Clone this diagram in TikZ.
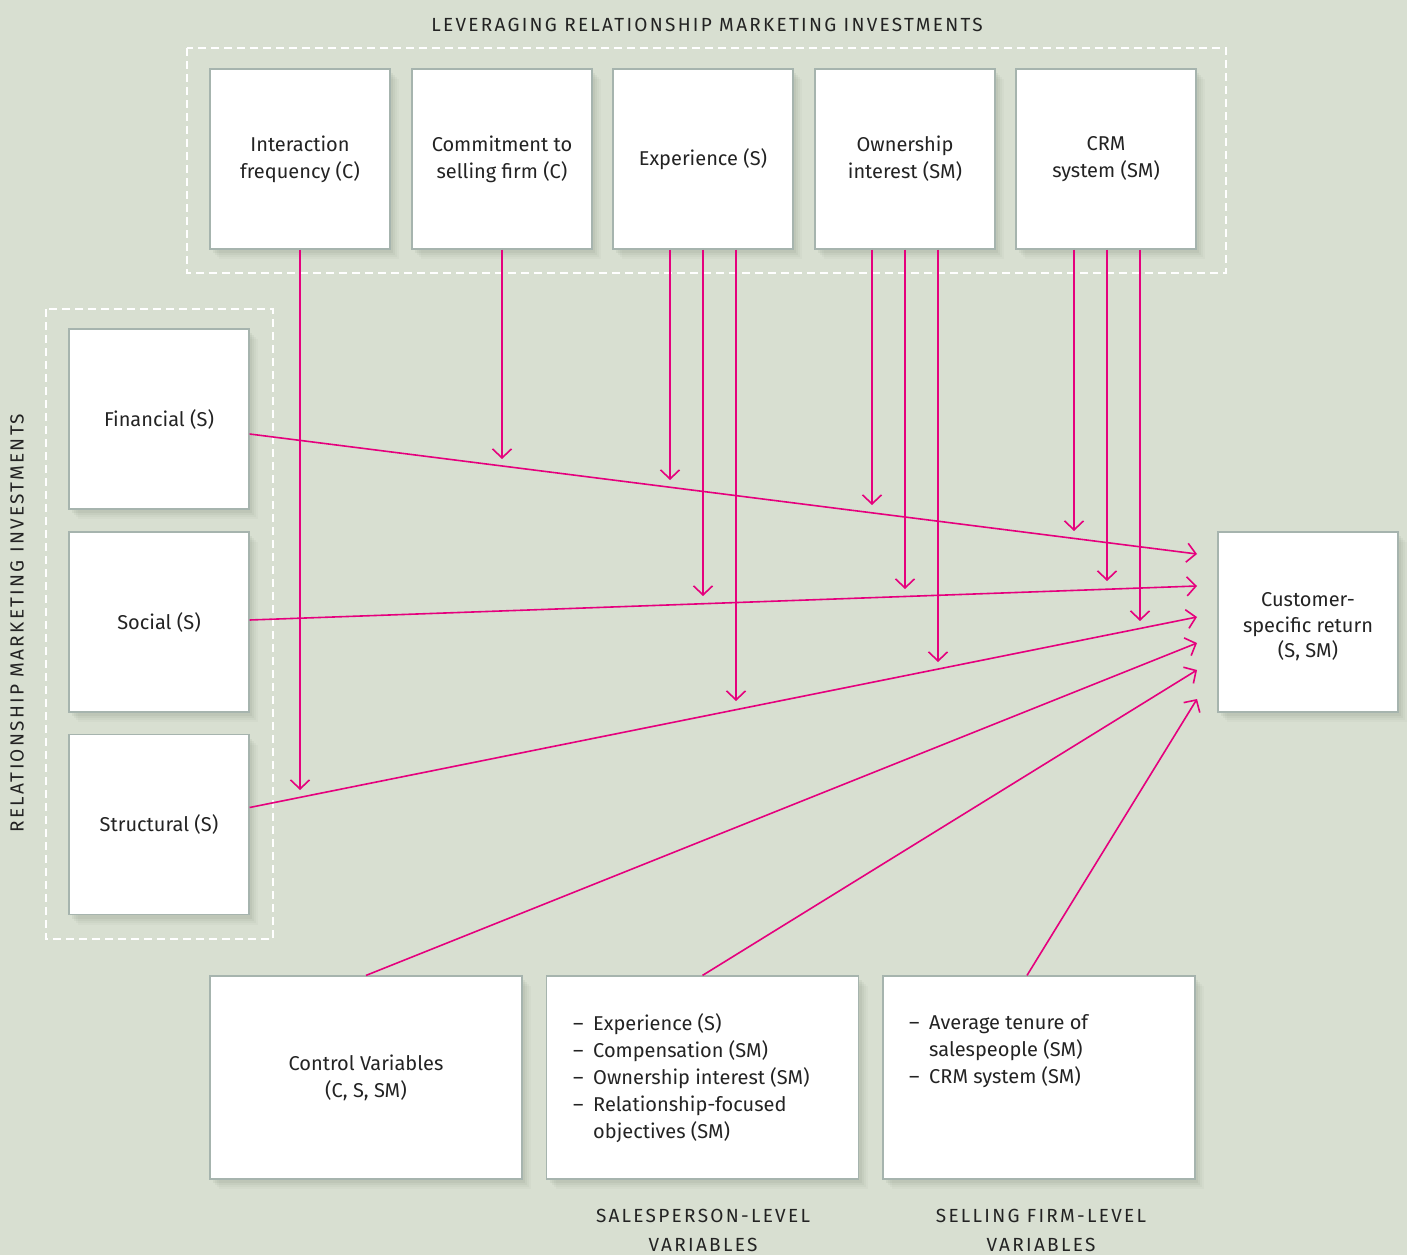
\documentclass[tikz,border=0pt]{standalone}
\usepackage{fontspec}
\setmainfont{Fira Sans}[Scale=1]
\usetikzlibrary{arrows.meta,shadows}
\definecolor{bg}{RGB}{216,223,209}
\definecolor{mag}{RGB}{229,0,125}
\definecolor{bx}{RGB}{166,180,174}
\definecolor{sh}{RGB}{120,135,115}
\definecolor{txt}{RGB}{35,35,35}
\begin{document}
\begin{tikzpicture}[x=1pt,y=-1pt,
  font=\fontsize{20}{27}\selectfont, text=txt,
  box/.style={draw=bx, line width=1.2pt, fill=white, minimum width=180pt, minimum height=180pt, inner sep=0pt, align=center,
     general shadow={shadow xshift=9pt, shadow yshift=-10pt, fill=sh, opacity=0.05},
     general shadow={shadow xshift=7pt, shadow yshift=-8pt, fill=sh, opacity=0.06},
     general shadow={shadow xshift=5pt, shadow yshift=-6pt, fill=sh, opacity=0.08},
     general shadow={shadow xshift=3pt, shadow yshift=-4pt, fill=sh, opacity=0.10}},
  wbox/.style={box, minimum width=312pt, minimum height=203pt},
  frame/.style={draw=white, line width=1.4pt, dash pattern=on 8pt off 5pt},
  arr/.style={draw=mag, line width=1.6pt, -{Straight Barb[length=9pt,width=19pt,line width=1.6pt]}},
  captxt/.style={font=\fontsize{19}{29}\selectfont\addfontfeature{LetterSpace=12}, align=center, inner sep=0pt}]
\fill[bg] (0,0) rectangle (1407,1255);
\useasboundingbox (0,0) rectangle (1407,1255);
% frames
\draw[frame] (187,48) rectangle (1226,273);
\draw[frame] (46,309) rectangle (273,939);
% titles
\node[captxt] (ttop) at (707,25) {LEVERAGING RELATIONSHIP MARKETING INVESTMENTS};
\node[captxt, rotate=90] (tleft) at (17,623) {RELATIONSHIP MARKETING INVESTMENTS};
\node[captxt] (tsp) at (703,1230) {SALESPERSON-LEVEL\\VARIABLES};
\node[captxt] (tsf) at (1041,1230) {SELLING FIRM-LEVEL\\VARIABLES};
% top boxes
\node[box] (ia) at (300,159) {Interaction\\frequency (C)};
\node[box] (co) at (502,159) {Commitment to\\selling firm (C)};
\node[box] (ex) at (703,159) {Experience (S)};
\node[box] (ow) at (905,159) {Ownership\\interest (SM)};
\node[box] (crm) at (1106,159) {CRM\\system (SM)};
% left boxes
\node[box] (fin) at (159,419) {Financial (S)};
\node[box] (soc) at (159,622) {Social (S)};
\node[box] (str) at (159,824.5) {Structural (S)};
% right box
\node[box] (cr) at (1308,622) {};
\node[align=center, font=\fontsize{20}{25.5}\selectfont, inner sep=0pt] (crt) at (1308,627) {Customer-\\specific return\\(S, SM)};
% bottom boxes
\node[wbox] (ctrl) at (366,1077.5) {Control Variables\\(C, S, SM)};
\node[wbox] (sp) at (702.5,1077.5) {};
\node[wbox] (sf) at (1039,1077.5) {};
\node[anchor=north west, align=left, inner sep=0pt] (spt) at (573,1013)
  {\makebox[20pt][l]{–}Experience (S)\\\makebox[20pt][l]{–}Compensation (SM)\\\makebox[20pt][l]{–}Ownership interest (SM)\\\makebox[20pt][l]{–}Relationship-focused\\\hspace*{20pt}objectives (SM)};
\node[anchor=north west, align=left, inner sep=0pt] (sft) at (909,1014)
  {\makebox[20pt][l]{–}Average tenure of\\\hspace*{20pt}salespeople (SM)\\\makebox[20pt][l]{–}CRM system (SM)};
% end coordinates
\coordinate (e1) at (300,790);
\coordinate (e2) at (502,459);
\coordinate (e3a) at (670,480);
\coordinate (e3b) at (703,596);
\coordinate (e3c) at (736,701);
\coordinate (e4a) at (872,505);
\coordinate (e4b) at (905,589);
\coordinate (e4c) at (938,662);
\coordinate (e5a) at (1074,531);
\coordinate (e5b) at (1107,581);
\coordinate (e5c) at (1140,621);
\coordinate (r1) at (1197,554);
\coordinate (r2) at (1197,586);
\coordinate (r3) at (1197,617);
\coordinate (r4) at (1197,643);
\coordinate (r5) at (1197,670);
\coordinate (r6) at (1197,699);
% vertical arrows
\draw[arr] (ia.south) -- (e1);
\draw[arr] (co.south) -- (e2);
\draw[arr] ([xshift=-33pt]ex.south) -- (e3a);
\draw[arr] (ex.south) -- (e3b);
\draw[arr] ([xshift=33pt]ex.south) -- (e3c);
\draw[arr] ([xshift=-33pt]ow.south) -- (e4a);
\draw[arr] (ow.south) -- (e4b);
\draw[arr] ([xshift=33pt]ow.south) -- (e4c);
\draw[arr] ([xshift=-32pt]crm.south) -- (e5a);
\draw[arr] ([xshift=1pt]crm.south) -- (e5b);
\draw[arr] ([xshift=34pt]crm.south) -- (e5c);
% arrows to customer-specific return
\draw[arr] ([yshift=-15pt]fin.east) -- (r1);
\draw[arr] ([yshift=2pt]soc.east) -- (r2);
\draw[arr] ([yshift=17pt]str.east) -- (r3);
\draw[arr] (ctrl.north) -- (r4);
\draw[arr] (sp.north) -- (r5);
\draw[arr] ([xshift=-12pt]sf.north) -- (r6);
\end{tikzpicture}
\end{document}
